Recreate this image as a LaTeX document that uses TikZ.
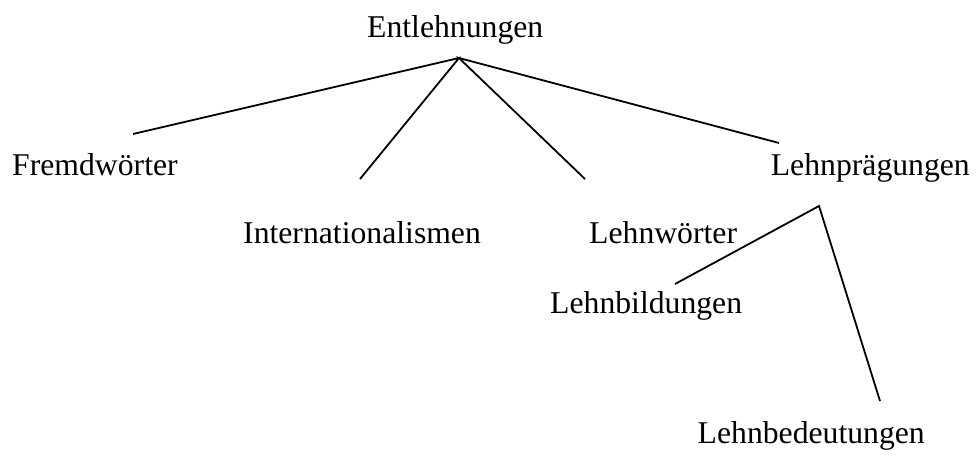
\documentclass[tikz,border=0pt]{standalone}
\usepackage{fontspec}
\setmainfont{Liberation Serif}
\begin{document}
\begin{tikzpicture}[x=1pt,y=-1pt,
  lbl/.style={inner sep=0pt,font=\fontsize{31.7}{38}\selectfont},
  edge/.style={line width=1.8pt,black}]
\useasboundingbox (0,0) rectangle (977,456);
\node[lbl,anchor=base west] (ent) at (367,37) {Entlehnungen};
\node[lbl,anchor=base west] (fremd) at (12,175) {Fremdwörter};
\node[lbl,anchor=base west] (intl) at (243,243) {Internationalismen};
\node[lbl,anchor=base west] (lw) at (589,243) {Lehnwörter};
\node[lbl,anchor=base east] (lp) at (970,175) {Lehnprägungen};
\node[lbl,anchor=base west] (lb) at (550,313) {Lehnbildungen};
\node[lbl,anchor=base east] (lbd) at (925,443) {Lehnbedeutungen};
\coordinate (a1) at (459,58);
\coordinate (a2) at (819,206);
\coordinate (e1) at (133,134);
\coordinate (e2) at (360,179);
\coordinate (e3) at (585,179);
\coordinate (e4) at (779,143);
\coordinate (e5) at (675,284);
\coordinate (e6) at (880,401);
\draw[edge] (e1) -- (a1) -- (e2);
\draw[edge] (e3) -- (a1) -- (e4);
\draw[edge] (e5) -- (a2) -- (e6);
\end{tikzpicture}
\end{document}
